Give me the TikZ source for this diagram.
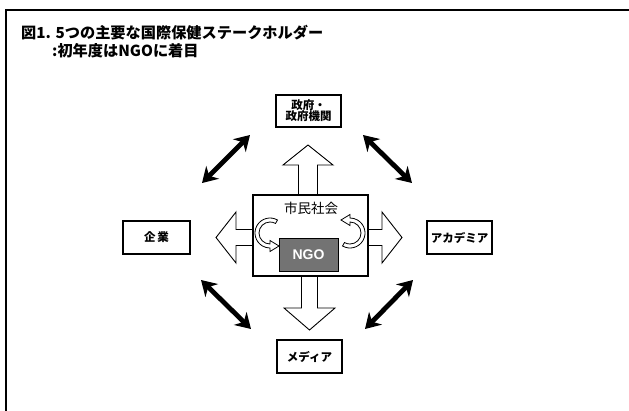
\documentclass[tikz,border=0pt]{standalone}
\usepackage{fontspec}
\newfontfamily\jp{Noto Sans CJK JP}
\newfontfamily\lsans{Liberation Sans}
\usetikzlibrary{arrows.meta}
\begin{document}
\begin{tikzpicture}[x=1pt,y=-1pt,
  sbox/.style={draw=black,line width=1.3pt,fill=white,inner sep=0pt,font=\jp\bfseries\fontsize{11.5}{13}\selectfont,align=center},
  barrow/.style={draw=black,line width=0.9pt,fill=white,line join=miter},
  darrow/.style={line width=4.8pt,{Stealth[length=15pt,width=18pt]}-{Stealth[length=15pt,width=18pt]}},
  carrow/.style={draw=black,line width=0.8pt,fill=white}]
\useasboundingbox (0,0) rectangle (629,410);
\fill[white] (0,0) rectangle (629,410);
% frame
\draw[line width=1.6pt] (6,420) -- (6,10) -- (640,10);
% title
\node[anchor=west,inner sep=0pt,font=\jp\bfseries\fontsize{15.2}{17}\selectfont] (t1) at (21,33) {図1. 5つの主要な国際保健ステークホルダー};
\node[anchor=west,inner sep=0pt,font=\jp\bfseries\fontsize{15.2}{17}\selectfont] (t2) at (52,51) {:初年度はNGOに着目};
% block arrows
\draw[barrow] (298.5,195) -- (298.5,165) -- (283,165) -- (308,145) -- (333,165) -- (317.5,165) -- (317.5,195);
\draw[barrow] (301.5,276) -- (301.5,308) -- (284,308) -- (309.5,330) -- (335,308) -- (317.5,308) -- (317.5,276);
\draw[barrow] (253,229.5) -- (236,229.5) -- (236,212) -- (216,237.5) -- (236,263) -- (236,245.5) -- (253,245.5);
\draw[barrow] (368,229.5) -- (382,229.5) -- (382,212) -- (402,237.5) -- (382,263) -- (382,245.5) -- (368,245.5);
% civil society box
\node[draw=black,line width=1.3pt,fill=white,minimum width=115pt,minimum height=81pt,inner sep=0pt] (cs) at (310.5,235.5) {};
\node[inner sep=0pt,font=\jp\fontsize{13.5}{15}\selectfont] (cst) at (311,208) {市民社会};
\node[draw=black,line width=1pt,fill=black!55,minimum width=59pt,minimum height=33pt,inner sep=0pt,text=white,font=\lsans\bfseries\fontsize{14}{15}\selectfont] (ngo) at (308.5,254.5) {NGO};
% curved arrows
\draw[carrow] (270+15*cos -60,233+15*sin -60) arc[start angle=-60,end angle=-270,radius=15]
  -- (270,251.5) -- (279,246) -- (270,240.5) -- (270,244) arc[start angle=-270,end angle=-60,radius=11] -- cycle;
\draw[carrow] (350+15*cos 120,233+15*sin 120) arc[start angle=120,end angle=-90,radius=15]
  -- (350,214.5) -- (341,220) -- (350,225.5) -- (350,222) arc[start angle=-90,end angle=120,radius=11] -- cycle;
% stakeholder boxes
\node[sbox,minimum width=65pt,minimum height=32pt] (gov) at (308.5,111) {政府・\\[-2pt]政府機関};
\node[sbox,minimum width=67pt,minimum height=33pt] (ent) at (156.5,237.5) {企\hspace{2pt}業};
\node[sbox,minimum width=65pt,minimum height=33pt] (aca) at (459.5,237.5) {アカデミア};
\node[sbox,minimum width=65pt,minimum height=33pt] (med) at (309.5,356.5) {メディア};
% double arrows
\coordinate (a1) at (202,183); \coordinate (a2) at (250,135);
\coordinate (b1) at (363,135); \coordinate (b2) at (412,183);
\coordinate (c1) at (201,280); \coordinate (c2) at (251,329);
\coordinate (d1) at (365,329); \coordinate (d2) at (413,280);
\draw[darrow] (a1) -- (a2);
\draw[darrow] (b1) -- (b2);
\draw[darrow] (c1) -- (c2);
\draw[darrow] (d1) -- (d2);
\end{tikzpicture}
\end{document}
